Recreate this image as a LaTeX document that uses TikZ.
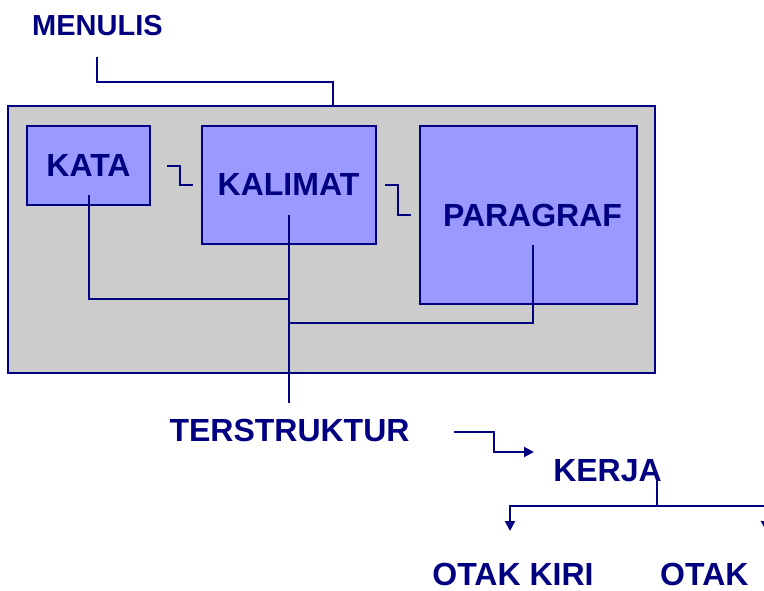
\documentclass[tikz,border=0pt]{standalone}
\usepackage{fontspec}
\setmainfont{Liberation Sans}
\usetikzlibrary{arrows.meta}
\definecolor{navy}{HTML}{000080}
\definecolor{greyfill}{HTML}{CCCCCC}
\definecolor{boxfill}{HTML}{9999FF}
\tikzset{
  lbl/.style={text=navy,font=\fontsize{32}{34}\selectfont\bfseries,inner sep=0pt,anchor=base},
  wire/.style={draw=navy,line width=2pt},
  arr/.style={wire,-{Triangle[length=10pt,width=10pt]}},
  pbox/.style={draw=navy,line width=1.6pt,fill=boxfill},
}
\begin{document}
\begin{tikzpicture}[x=1pt,y=-1pt]
\useasboundingbox (0,0) rectangle (764,591);
\node[lbl,anchor=base west,font=\fontsize{29}{31}\selectfont\bfseries] (menulis) at (32,36) {MENULIS};
\coordinate (m0) at (97,57);
\draw[pbox,fill=greyfill] (8,106) rectangle (655,373);
\coordinate (gtop) at (333,106);
\draw[wire] (m0) |- (gtop |- 0,82) -- (gtop);
\draw[pbox] (27,126) rectangle (150,205);
\draw[pbox] (202,126) rectangle (376,244);
\draw[pbox] (420,126) rectangle (637,304);
\node[lbl] (kata) at (88.5,177) {KATA};
\node[lbl] (kalimat) at (288.5,196) {KALIMAT};
\node[lbl] (paragraf) at (532.5,227) {PARAGRAF};
\coordinate (a1) at (167,166);
\coordinate (a2) at (193,185);
\draw[wire] (a1) -- (180,166) |- (a2);
\coordinate (b1) at (385,185);
\coordinate (b2) at (411,215);
\draw[wire] (b1) -- (398,185) |- (b2);
\coordinate (k1) at (89,195);
\coordinate (k2) at (289,215);
\coordinate (k3) at (533,245);
\coordinate (tdown) at (289,403);
\draw[wire] (k1) |- (289,299);
\draw[wire] (k2) -- (tdown);
\draw[wire] (k3) |- (289,323);
\node[lbl] (terstruktur) at (289.5,441) {TERSTRUKTUR};
\node[lbl] (kerja) at (607.5,481) {KERJA};
\coordinate (t1) at (454,432);
\coordinate (t2) at (534,452);
\draw[arr] (t1) -- (494,432) |- (t2);
\coordinate (kj) at (657,478);
\coordinate (sl) at (510,531);
\coordinate (sr) at (766,531);
\draw[wire] (kj) -- (657,506);
\draw[arr] (657,506) -| (sl);
\draw[arr] (657,506) -| (sr);
\node[lbl] (otakkiri) at (513,585) {OTAK KIRI};
\node[lbl,anchor=base west] (otak) at (660,585) {OTAK};
\end{tikzpicture}
\end{document}
